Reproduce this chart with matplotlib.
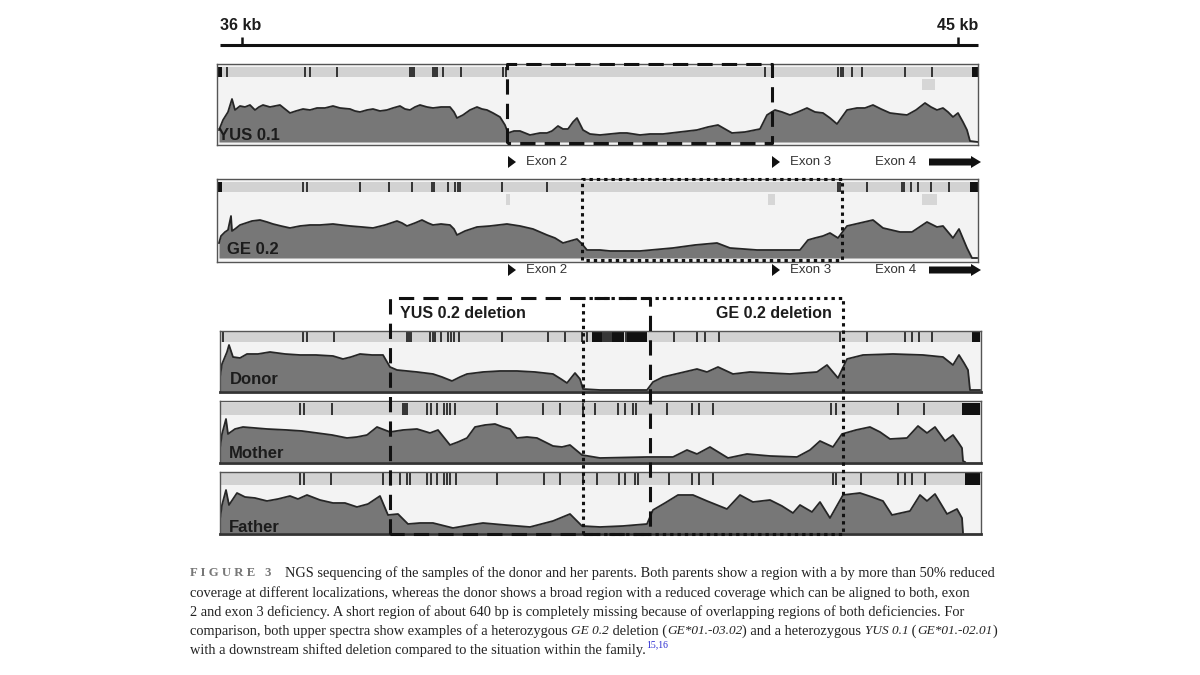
import matplotlib
matplotlib.use("Agg")
import matplotlib.pyplot as plt

W, H = 1200, 675

# Coverage profiles: position along the track (1 unit = 1/79.55 kb), coverage height
yus01_pos = [219, 223, 228, 232, 235, 240, 245, 250, 255, 259,
             263, 270, 280, 285, 290, 296, 303, 310, 317, 325,
             333, 340, 350, 355, 360, 367, 373, 380, 387, 393,
             400, 405, 410, 415, 420, 427, 433, 441, 450, 454,
             457, 463, 470, 477, 482, 487, 493, 500, 505, 508,
             514, 520, 530, 540, 547, 552, 558, 563, 568, 573,
             577, 583, 590, 600, 610, 620, 627, 640, 650, 663,
             680, 697, 708, 718, 725, 732, 745, 760, 767, 775,
             782, 790, 798, 807, 815, 823, 830, 837, 842, 847,
             857, 865, 873, 881, 890, 898, 907, 916, 925, 931,
             937, 943, 948, 953, 958, 963, 967, 970, 978]
yus01_cov = [12, 22, 30, 43, 32, 36, 35, 37, 32, 35,
             37, 35, 37, 33, 29, 31, 33, 32, 34, 34,
             36, 34, 33, 31, 30, 32, 33, 31, 32, 34,
             36, 33, 32, 35, 37, 35, 34, 35, 35, 30,
             24, 27, 32, 35, 33, 32, 29, 25, 17, 9,
             11, 11, 7, 9, 9, 11, 16, 13, 13, 20,
             24, 12, 8, 7, 8, 9, 9, 7, 8, 8,
             10, 12, 15, 17, 13, 9, 10, 13, 27, 32,
             30, 27, 30, 34, 30, 29, 24, 18, 25, 32,
             34, 34, 37, 33, 29, 28, 27, 32, 39, 35,
             32, 34, 30, 25, 29, 20, 12, 1, 0]

ge02_pos = [219, 221, 225, 228, 231, 232, 235, 240, 246, 252,
            260, 267, 273, 281, 290, 300, 310, 320, 333, 341,
            350, 362, 373, 385, 397, 402, 407, 415, 422, 428,
            433, 441, 450, 454, 457, 465, 477, 490, 507, 520,
            533, 547, 555, 563, 570, 577, 582, 587, 600, 610,
            640, 673, 695, 717, 730, 757, 800, 808, 815, 823,
            830, 838, 847, 860, 873, 883, 900, 912, 927, 937,
            943, 953, 959, 967, 972, 977]
ge02_cov = [15, 22, 26, 28, 42, 27, 29, 33, 35, 37,
            38, 36, 34, 32, 30, 32, 33, 33, 34, 33,
            32, 31, 30, 33, 37, 35, 32, 35, 38, 35,
            33, 34, 33, 29, 23, 27, 31, 32, 34, 32,
            29, 23, 20, 15, 17, 19, 14, 8, 8, 7,
            7, 10, 13, 15, 10, 8, 8, 18, 20, 22,
            25, 20, 32, 35, 38, 30, 26, 26, 36, 31,
            32, 20, 29, 10, 0, 0]

donor_pos = [220, 222, 227, 229, 233, 240, 247, 258, 270, 285,
             300, 316, 333, 343, 351, 360, 372, 383, 390, 397,
             407, 417, 425, 433, 442, 452, 460, 467, 475, 483,
             500, 517, 535, 553, 561, 567, 575, 580, 583, 600,
             647, 653, 663, 680, 697, 707, 718, 733, 750, 770,
             790, 817, 827, 838, 847, 863, 893, 923, 943, 953,
             959, 964, 968, 970, 980]
donor_cov = [14, 27, 39, 46, 34, 33, 37, 37, 39, 37,
             36, 36, 35, 32, 34, 37, 36, 36, 24, 21,
             20, 19, 18, 17, 14, 10, 14, 17, 18, 19,
             20, 20, 19, 17, 12, 8, 18, 12, 2, 1,
             1, 9, 14, 18, 22, 19, 24, 17, 19, 18,
             17, 19, 26, 13, 32, 36, 37, 36, 34, 26,
             36, 28, 21, 1, 1]

mother_pos = [220, 222, 226, 228, 235, 243, 255, 267, 287, 302,
              317, 332, 347, 357, 367, 377, 390, 403, 417, 430,
              438, 450, 458, 467, 475, 485, 495, 503, 510, 517,
              527, 537, 545, 553, 562, 570, 582, 600, 647, 673,
              687, 697, 710, 728, 747, 770, 797, 810, 820, 833,
              842, 856, 870, 880, 890, 907, 918, 927, 935, 945,
              953, 958, 962, 963, 965]
mother_cov = [14, 28, 43, 28, 33, 35, 34, 33, 32, 31,
              29, 27, 24, 25, 27, 35, 30, 32, 33, 29,
              32, 17, 20, 24, 35, 37, 38, 35, 33, 24,
              25, 24, 20, 16, 15, 17, 7, 4, 5, 5,
              12, 8, 15, 4, 8, 6, 5, 12, 21, 15,
              28, 32, 35, 30, 23, 24, 36, 29, 35, 21,
              27, 20, 14, 1, 0]

father_pos = [220, 222, 226, 229, 237, 245, 255, 267, 278, 290,
              298, 307, 320, 333, 345, 357, 368, 380, 388, 398,
              408, 420, 433, 453, 470, 483, 505, 530, 553, 570,
              582, 600, 623, 647, 653, 665, 678, 693, 707, 717,
              727, 740, 753, 770, 782, 793, 800, 812, 820, 830,
              843, 860, 872, 883, 892, 910, 920, 927, 935, 947,
              957, 962, 963]
father_cov = [14, 28, 43, 28, 40, 36, 35, 32, 34, 37,
              34, 38, 33, 30, 30, 26, 29, 37, 18, 19,
              9, 10, 10, 5, 8, 10, 8, 6, 12, 19,
              7, 6, 7, 9, 23, 30, 38, 38, 32, 28,
              24, 38, 31, 33, 27, 20, 28, 21, 31, 15,
              38, 40, 36, 32, 18, 22, 38, 32, 39, 19,
              24, 15, 0]

# Variant marks in the bar on top of each track
yus01_marks = [227, 305, 310, 337, 410, 412, 414, 433, 435, 437, 443, 461, 503, 506, 765, 838, 841, 843, 852, 862, 905, 932]
ge02_marks = [303, 307, 360, 389, 412, 432, 434, 448, 455, 458, 460, 502, 547, 838, 840, 867, 902, 904, 911, 918, 931, 949]
donor_marks = [223, 303, 307, 334, 407, 409, 411, 430, 433, 435, 441, 448, 451, 454, 459, 502, 548, 565, 582, 587,
               603, 605, 607, 609, 611, 626, 674, 697, 705, 719, 840, 867, 905, 912, 919, 932]
mother_marks = [300, 304, 332, 403, 405, 407, 427, 431, 437, 444, 447, 450, 455, 497, 543, 560, 583, 595, 618, 625, 633, 636, 667, 692, 699, 713, 831, 836, 898, 924]
father_marks = [300, 304, 331, 383, 390, 400, 407, 410, 427, 431, 437, 444, 447, 450, 456, 497, 544, 560, 583, 597, 619, 625, 635, 638, 669, 692, 699, 713, 833, 836, 861, 898, 905, 912, 925]

# Solid black blocks in the bar
yus01_blocks = [(218, 222), (972, 978)]
ge02_blocks = [(218, 222), (970, 978)]
donor_blocks = [(592, 602), (612, 624), (627, 647), (972, 980)]
mother_blocks = [(962, 980)]
father_blocks = [(965, 980)]

# Pale patches under the bar
yus01_patches = [(922, 935, 79, 90)]
ge02_patches = [(506, 510, 194, 205), (768, 775, 194, 205), (922, 937, 194, 205)]

fig = plt.figure(figsize=(12, 6.75), dpi=100, facecolor="white")


def draw_track(left, right, top, bottom, base, pos, cov, marks, blocks, bar_gap, bar_h, label, label_x, label_y):
    ax = fig.add_axes([left / W, 1 - bottom / H, (right - left) / W, (bottom - top) / H])
    ax.set_xlim(left, right)
    ax.set_ylim(base - bottom, base - top)
    ax.set_facecolor("#f3f3f3")
    ax.set_xticks([])
    ax.set_yticks([])
    for s in ax.spines.values():
        s.set_color("#555555")
        s.set_linewidth(1.0)
    if bottom - base <= 1:
        ax.spines["bottom"].set_color("#333333")
        ax.spines["bottom"].set_linewidth(2.0)
    ax.fill_between(pos, cov, 0, color="#777777", lw=0)
    ax.plot(pos, cov, color="#262626", lw=1.3)
    # bar on top
    bar_top = base - top - bar_gap
    ax.fill_between([left, right], bar_top - bar_h, bar_top, color="#d2d2d2", lw=0)
    ax.vlines(marks, bar_top - bar_h, bar_top, color="#333333", lw=1.4)
    for a, b in blocks:
        ax.fill_between([a, b], bar_top - bar_h, bar_top, color="#111111", lw=0)
    ax.text(label_x, base - label_y, label, fontsize=12, fontweight="bold", family="Liberation Sans",
            color="#1c1c1c", va="center", ha="left")
    return ax


ax1 = draw_track(217, 978, 64, 145, 142, yus01_pos, yus01_cov, yus01_marks, yus01_blocks, 3, 10, "YUS 0.1", 218, 136)
ax2 = draw_track(217, 978, 179, 262, 258, ge02_pos, ge02_cov, ge02_marks, ge02_blocks, 3, 10, "GE 0.2", 227, 250)
draw_track(220, 981, 331, 392, 391, donor_pos, donor_cov, donor_marks, donor_blocks, 0, 11, "Donor", 230, 380)
draw_track(220, 981, 401, 463, 462, mother_pos, mother_cov, mother_marks, mother_blocks, 2, 12, "Mother", 229, 453)
draw_track(220, 981, 472, 534, 533, father_pos, father_cov, father_marks, father_blocks, 1, 12, "Father", 229, 527)

for ax, base, patches in [(ax1, 142, yus01_patches), (ax2, 258, ge02_patches)]:
    for a, b, y0, y1 in patches:
        ax.fill_between([a, b], base - y1, base - y0, color="#d6d6d6", lw=0)

# Overlay for the scale, boxes, exon labels and caption
ov = fig.add_axes([0, 0, 1, 1], facecolor="none")
ov.set_xlim(0, W)
ov.set_ylim(H, 0)
ov.axis("off")

# Scale
ov.plot([220, 978], [45, 45], color="#111111", lw=2.2, solid_capstyle="butt")
ov.vlines([242, 958], 37, 45, color="#111111", lw=1.8)
ov.text(220, 25, "36 kb", fontsize=11.5, fontweight="bold", family="Liberation Sans", color="#1c1c1c", va="center")
ov.text(978, 25, "45 kb", fontsize=11.5, fontweight="bold", family="Liberation Sans", color="#1c1c1c", va="center", ha="right")


def box(x0, x1, y0, y1, dashes):
    ov.plot([x0, x0, x1, x1, x0], [y1, y0, y0, y1, y1], color="#111111", lw=2.2,
            dashes=dashes, dash_capstyle="butt")


DASH = (5, 3)
DOT = (1.1, 1.3)
box(507, 772, 64, 143, DASH)
box(582, 842, 179, 260, DOT)
box(583, 843, 298, 534, DOT)
box(390, 650, 298, 534, DASH)

ov.text(400, 314, "YUS 0.2 deletion", fontsize=11.5, fontweight="bold", family="Liberation Sans", color="#1c1c1c", va="center")
ov.text(832, 314, "GE 0.2 deletion", fontsize=11.5, fontweight="bold", family="Liberation Sans", color="#1c1c1c", va="center", ha="right")

# Exon rows
for y in (162, 270):
    ov.fill([508, 508, 516], [y - 6, y + 6, y], color="#111111", lw=0)
    ov.fill([772, 772, 780], [y - 6, y + 6, y], color="#111111", lw=0)
    ov.text(526, y, "Exon 2", fontsize=9.5, family="Liberation Sans", color="#333333", va="center")
    ov.text(790, y, "Exon 3", fontsize=9.5, family="Liberation Sans", color="#333333", va="center")
    ov.text(875, y, "Exon 4", fontsize=9.5, family="Liberation Sans", color="#333333", va="center")
    ov.fill([929, 971, 971, 981, 971, 971, 929], [y - 3.5, y - 3.5, y - 6, y, y + 6, y + 3.5, y + 3.5],
            color="#111111", lw=0)

# Caption, run by run so italic and superscript parts follow on
CAP_SIZE = 10.35
caption = [
    (573, [("FIGURE 3", "label"), ("NGS sequencing of the samples of the donor and her parents. Both parents show a region with a by more than 50% reduced", "plain")]),
    (593, [("coverage at different localizations, whereas the donor shows a broad region with a reduced coverage which can be aligned to both, exon", "plain")]),
    (612, [("2 and exon 3 deficiency. A short region of about 640 bp is completely missing because of overlapping regions of both deficiencies. For", "plain")]),
    (631, [("comparison, both upper spectra show examples of a heterozygous ", "plain"), ("GE 0.2", "ital"), (" deletion (", "plain"), ("GE*01.-03.02", "ital"),
           (") and a heterozygous ", "plain"), ("YUS 0.1", "ital"), (" (", "plain"), ("GE*01.-02.01", "ital"), (")", "plain")]),
    (650, [("with a downstream shifted deletion compared to the situation within the family.", "plain"), ("15,16", "sup")]),
]

renderer = fig.canvas.get_renderer()
for y, runs in caption:
    x = 190
    for txt, kind in runs:
        kw = dict(family="Liberation Serif", fontsize=CAP_SIZE, color="#222222", va="center")
        yy = y
        if kind == "ital":
            kw.update(style="italic", fontsize=9.5)
        elif kind == "sup":
            kw.update(fontsize=7, color="#2a2ad0")
            yy = y - 5
        elif kind == "label":
            kw.update(fontweight="bold", color="#777777", fontsize=9.2)
            txt = " ".join(txt)
        t = ov.text(x, yy, txt, **kw)
        x += t.get_window_extent(renderer).width
        if kind == "label":
            x = 285

fig.savefig("out.png", dpi=100)
